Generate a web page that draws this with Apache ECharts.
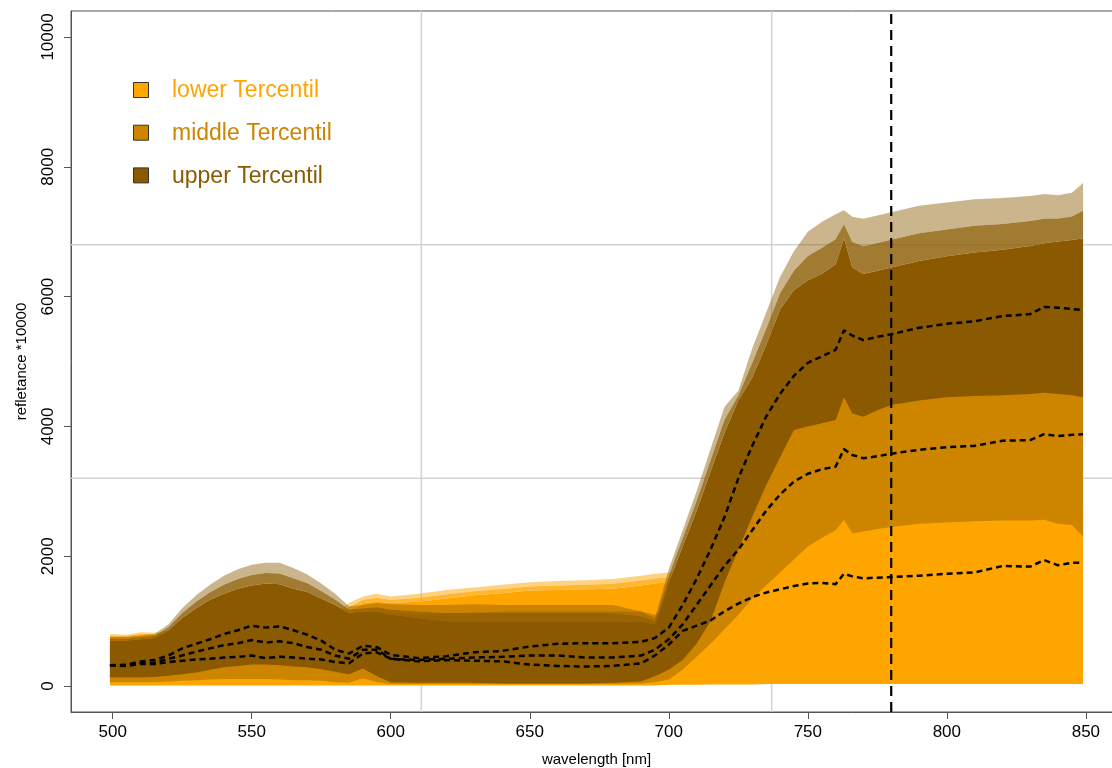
<!DOCTYPE html>
<html>
<head>
<meta charset="utf-8">
<script src="https://cdn.jsdelivr.net/npm/echarts@6/dist/echarts.min.js"></script>
<style>html,body{margin:0;padding:0;background:#fff}#c{width:1112px;height:768px}</style>
</head>
<body>
<div id="c"></div>
<script>
// ---- data ----
const wl = [499,505,510,515,520,525,530,535,540,545,550,555,560,565,570,575,580,585,590,595,600,610,620,630,640,650,660,670,680,690,695,700,705,710,715,720,725,730,735,740,745,750,755,760,763,766,770,775,780,790,800,810,820,830,835,840,845,849];

const lowerMed  = [320,310,340,340,370,390,410,420,440,450,470,430,450,440,420,410,370,350,500,520,420,380,400,390,380,330,310,300,310,350,470,640,850,930,1010,1150,1270,1370,1440,1490,1540,1580,1590,1570,1730,1690,1660,1670,1680,1700,1730,1750,1850,1840,1940,1860,1900,1900];
const middleMed = [320,320,350,360,420,470,530,580,630,660,710,670,690,660,600,560,470,420,560,560,420,400,420,440,450,470,470,440,440,470,560,720,950,1250,1550,1850,2100,2400,2700,2950,3150,3270,3340,3380,3650,3560,3510,3540,3580,3640,3680,3700,3780,3790,3880,3850,3870,3880];
const upperMed  = [320,330,380,400,470,580,650,720,800,860,930,900,920,860,790,700,560,500,620,600,480,430,460,520,540,610,650,660,660,680,740,900,1250,1650,2100,2600,3200,3700,4150,4500,4780,4980,5080,5180,5480,5400,5330,5380,5420,5520,5580,5620,5700,5730,5840,5830,5810,5790];

// lower tercentile: bottom, dense top, outermost lines
const lowerLo  = [10,10,10,10,10,10,10,10,10,10,10,10,10,10,10,10,10,10,10,10,10,10,10,10,10,10,10,10,10,10,10,20,20,20,25,25,25,25,30,30,30,30,30,30,30,30,30,30,30,30,30,30,30,30,30,30,30,30];
const lowerHi  = [760,760,780,790,820,850,870,900,920,930,950,960,960,950,950,950,1000,1150,1280,1300,1280,1300,1350,1400,1430,1470,1480,1490,1500,1550,1580,1600,1600,1650,1750,1850,2000,2150,2300,2450,2550,2650,2700,2750,2900,2750,2750,2750,2780,2800,2800,2820,2820,2830,2850,2850,2850,2800];
const lowerTop = [800,790,830,820,850,880,900,920,950,960,980,990,990,980,980,1000,1120,1280,1380,1420,1380,1420,1480,1520,1560,1600,1620,1630,1650,1700,1730,1750,1760,1800,1850,1950,2100,2250,2400,2550,2650,2750,2800,2850,3000,2850,2850,2850,2880,2900,2900,2920,2920,2930,2950,2950,2950,2900];

// middle tercentile
const middleLo = [60,60,60,60,70,80,90,100,110,110,110,110,100,90,90,80,60,50,120,60,30,30,30,30,30,30,30,30,30,40,60,100,250,450,650,870,1100,1350,1550,1750,1950,2150,2280,2400,2560,2350,2380,2420,2450,2500,2520,2540,2550,2550,2560,2500,2480,2300];
const middleHi = [650,650,680,700,800,900,1000,1100,1150,1200,1250,1250,1250,1200,1150,1100,1000,950,1150,1150,1120,1100,1120,1130,1150,1150,1150,1150,1150,1150,1100,1200,1500,1900,2300,2700,3100,3500,3900,4200,4450,4600,4700,4800,5100,4900,4850,4900,4950,5000,5050,5100,5100,5150,5200,5200,5200,5200];

// upper tercentile
const upperLo  = [130,130,130,140,160,180,210,250,290,310,330,330,320,300,290,260,220,180,270,150,60,50,50,50,40,40,40,40,50,70,150,250,400,650,1000,1590,2100,2610,3090,3520,3945,4000,4050,4100,4450,4200,4150,4250,4330,4400,4450,4470,4480,4500,4520,4500,4480,4450];
const upperHi  = [700,700,720,740,860,1050,1200,1330,1420,1500,1550,1580,1570,1500,1450,1350,1250,1130,1150,1150,1100,1050,1000,1000,1000,1000,1000,1000,1000,1000,950,1600,2150,2700,3300,3900,4400,4750,5250,5800,6100,6250,6350,6500,6900,6450,6350,6400,6450,6550,6620,6680,6720,6780,6820,6850,6870,6900];
const upperTop = [760,760,780,800,950,1200,1400,1560,1700,1800,1870,1900,1900,1820,1720,1580,1420,1230,1250,1280,1260,1250,1250,1260,1250,1250,1250,1250,1250,1150,1050,1800,2400,3000,3650,4300,4550,5200,5750,6300,6700,7000,7150,7270,7330,7230,7200,7250,7300,7400,7450,7500,7520,7550,7580,7560,7600,7750];

const xTicks = [500,550,600,650,700,750,800,850];
const yTicks = [0,2000,4000,6000,8000,10000];
const gridX = [611,737];      // light grey reference lines
const gridY = [3200,6800];
const cutWl = 780;            // dashed vertical marker
const legendLabels = ['lower Tercentil','middle Tercentil','upper Tercentil'];
const colors = ['#FFA500','#CD8500','#8B5A00'];

// ---- chart ----
const FONT = 'Liberation Sans, Arial, Helvetica, sans-serif';
const X_MIN = 485, X_MAX = 863, Y_MIN = -400, Y_MAX = 10400;
function band(lo, hi, color, opacity, z) {
  return {
    type: 'custom', coordinateSystem: 'cartesian2d', silent: true, z: z, clip: true,
    data: wl.map((w, i) => [w, hi[i], lo[i]]),
    encode: { x: 0, y: 1 },
    renderItem: function (params, api) {
      if (params.dataIndex !== 0) return null;
      const pts = [];
      for (let i = 0; i < wl.length; i++) pts.push(api.coord([wl[i], hi[i]]));
      for (let i = wl.length - 1; i >= 0; i--) pts.push(api.coord([wl[i], lo[i]]));
      return { type: 'polygon', shape: { points: pts }, style: { fill: color, opacity: opacity, stroke: null } };
    }
  };
}
function median(arr) {
  return {
    type: 'line', silent: true, z: 10, symbol: 'none', animation: false,
    data: wl.map((w, i) => [w, arr[i]]),
    lineStyle: { color: '#000', width: 2.5, type: [6, 4] }
  };
}
function refLine(points, color, width, type, z) {
  return { type: 'line', silent: true, z: z, symbol: 'none', animation: false, clip: true,
    data: points, lineStyle: { color: color, width: width, type: type } };
}
const upperMid = upperHi.map((v, i) => (v + upperTop[i]) / 2);
const lowerMid = lowerHi.map((v, i) => (v + lowerTop[i]) / 2);

const chart = echarts.init(document.getElementById('c'), null, { renderer: 'canvas' });
const legendGraphics = [];
legendLabels.forEach((t, i) => {
  legendGraphics.push({ type: 'rect', left: 133, top: 82 + i * 42.7, shape: { width: 15, height: 15 },
    style: { fill: colors[i], stroke: '#333', lineWidth: 1 }, z: 20 });
  legendGraphics.push({ type: 'text', left: 172, top: 89.5 + i * 42.7 - 10,
    style: { text: t, fill: colors[i], font: '23px ' + FONT }, z: 20 });
});

const series = [];
gridX.forEach(v => series.push(refLine([[v, Y_MIN], [v, Y_MAX]], '#D3D3D3', 1.5, 'solid', 0)));
gridY.forEach(v => series.push(refLine([[X_MIN, v], [X_MAX, v]], '#D3D3D3', 1.5, 'solid', 0)));
series.push(
  band(lowerLo, lowerHi, colors[0], 1, 2),
  band(lowerHi, lowerMid, colors[0], 0.8, 2),
  band(lowerMid, lowerTop, colors[0], 0.5, 2),
  band(middleLo, middleHi, colors[1], 1, 3),
  band(upperLo, upperHi, colors[2], 1, 4),
  band(upperHi, upperMid, colors[2], 0.8, 4),
  band(upperMid, upperTop, colors[2], 0.45, 4),
  median(lowerMed), median(middleMed), median(upperMed),
  refLine([[cutWl, Y_MIN], [cutWl, Y_MAX]], '#000', 2.2, [10, 6], 12)
);

chart.setOption({
  animation: false,
  backgroundColor: '#fff',
  grid: { left: 71, right: -10, top: 11, bottom: 56, containLabel: false, outerBoundsMode: 'none',
          show: true, borderColor: '#555', borderWidth: 1, backgroundColor: 'transparent' },
  xAxis: {
    type: 'value', min: X_MIN, max: X_MAX,
    name: 'wavelength [nm]', nameLocation: 'middle', nameGap: 40,
    nameTextStyle: { fontSize: 15, color: '#000', fontFamily: FONT },
    axisLine: { show: true, onZero: false, lineStyle: { color: '#555', width: 1 } },
    axisTick: { show: true, length: 7, customValues: xTicks, lineStyle: { color: '#555' } },
    axisLabel: { customValues: xTicks, fontSize: 17, color: '#000', fontFamily: FONT, margin: 12,
                 formatter: v => String(v) },
    splitLine: { show: false }
  },
  yAxis: {
    type: 'value', min: Y_MIN, max: Y_MAX,
    name: 'refletance *10000', nameLocation: 'middle', nameGap: 42,
    nameTextStyle: { fontSize: 15, color: '#000', fontFamily: FONT },
    axisLine: { show: true, onZero: false, lineStyle: { color: '#555', width: 1 } },
    axisTick: { show: true, length: 7, customValues: yTicks, lineStyle: { color: '#555' } },
    axisLabel: { customValues: yTicks, fontSize: 17, color: '#000', fontFamily: FONT, rotate: 90, margin: 14,
                 formatter: v => String(v) },
    splitLine: { show: false }
  },
  graphic: legendGraphics,
  series: series
});
</script>
</body>
</html>
